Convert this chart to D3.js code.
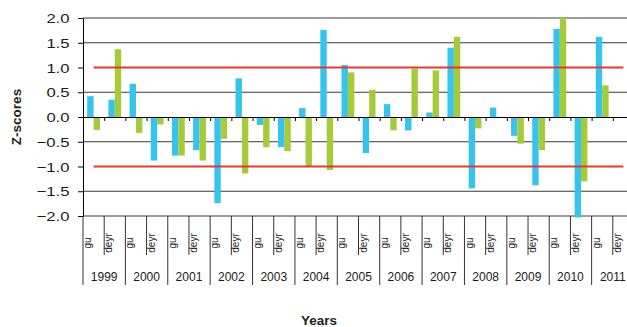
<!DOCTYPE html>
<html><head><meta charset="utf-8">
<script src="https://cdn.jsdelivr.net/npm/d3@7"></script>
<style>html,body{margin:0;padding:0;background:#fff;overflow:hidden}svg{display:block}</style>
</head><body><svg id="c" width="627" height="327"></svg>
<script>
const years = ["1999","2000","2001","2002","2003","2004","2005","2006","2007","2008","2009","2010","2011"];
const seasons = ["gu","deyr"];
const blueValues = [0.42,0.35, 0.67,-0.88, -0.78,-0.67, -1.74,0.78, -0.16,-0.61, 0.18,1.76, 1.05,-0.73, 0.26,-0.27, 0.09,1.40, -1.44,0.19, -0.38,-1.38, 1.78,-2.03, 1.62,null];
const greenValues = [-0.26,1.37, -0.32,-0.15, -0.78,-0.88, -0.44,-1.14, -0.61,-0.69, -1.00,-1.07, 0.90,0.55, -0.27,0.98, 0.94,1.62, -0.23,0.0, -0.54,-0.67, 2.0,-1.30, 0.64,null];
const yTicks = [-2,-1.5,-1,-0.5,0,0.5,1,1.5,2];
const thresholds = [1,-1];

const svg = d3.select("#c");
const X0 = 83, X1 = 634, Y_TOP = 18, Y_BOT = 216;
const FONT = "'Liberation Sans', Arial, sans-serif";
const cats = years.flatMap(yr => seasons.map(s => yr + "|" + s));
const x = d3.scaleBand().domain(cats).range([X0, X1]);
const xYear = d3.scaleBand().domain(years).range([X0, X1]);
const xIdx = d3.scaleLinear().domain([0, cats.length]).range([X0, X1]);
const y = d3.scaleLinear().domain([-2, 2]).range([Y_BOT, Y_TOP]);
const sub = d3.scaleBand().domain(["blue","green"]).range([-6.4, 6.4]);
const colors = {blue: "#35C4EE", green: "#A5CA3A"};

// gridlines
svg.append("g").selectAll("line")
  .data(yTicks.filter(v => v !== 0 && Math.abs(v) !== 1))
  .join("line")
  .attr("x1", X0).attr("x2", X1)
  .attr("y1", d => y(d)).attr("y2", d => y(d))
  .attr("stroke", "#3a3a3a").attr("stroke-width", 1);

// bars
const rows = cats.map((c, i) => ({c, blue: blueValues[i], green: greenValues[i]}));
["blue","green"].forEach(k => {
  svg.append("g").selectAll("rect")
    .data(rows.filter(r => r[k] !== null))
    .join("rect")
    .attr("x", r => x(r.c) + x.bandwidth()/2 + sub(k))
    .attr("width", sub.bandwidth())
    .attr("y", r => y(Math.max(0, r[k])))
    .attr("height", r => Math.abs(y(r[k]) - y(0)))
    .attr("fill", colors[k]);
});

// threshold lines
const firstC = x(cats[0]) + x.bandwidth()/2, lastC = x(cats[cats.length-1]) + x.bandwidth()/2;
svg.append("g").selectAll("line").data(thresholds).join("line")
  .attr("x1", firstC).attr("x2", lastC)
  .attr("y1", d => y(d)).attr("y2", d => y(d))
  .attr("stroke", "#E8392C").attr("stroke-width", 2);

// zero axis with ticks at category boundaries
const zAxis = svg.append("g").attr("transform", `translate(0,${y(0)})`)
  .call(d3.axisBottom(xIdx).tickValues(d3.range(cats.length + 1)).tickFormat("").tickSizeInner(4).tickSizeOuter(0));
zAxis.selectAll("path,line").attr("stroke", "#000");

// y axis
const yAxis = svg.append("g").attr("transform", `translate(${X0},0)`)
  .call(d3.axisLeft(y).tickValues(yTicks).tickSizeInner(5).tickSizeOuter(0).tickFormat(d3.format(".1f")));
yAxis.select(".domain").attr("stroke", "#000");
yAxis.selectAll(".tick line").attr("stroke", "#000");
yAxis.selectAll(".tick text")
  .attr("x", 0).attr("dy", "0.36em")
  .attr("transform", "translate(-13.5,0) scale(1.28,1)")
  .attr("font-family", FONT).attr("font-size", 13).attr("fill", "#1a1a1a");

// category label separators
const sep = svg.append("g");
d3.range(cats.length + 1).forEach(i => {
  const isYear = i % 2 === 0;
  sep.append("line")
    .attr("x1", xIdx(i)).attr("x2", xIdx(i))
    .attr("y1", Y_BOT).attr("y2", isYear ? 285 : 255)
    .attr("stroke", "#333").attr("stroke-width", 1);
});

// season labels
svg.append("g").selectAll("text").data(cats).join("text")
  .attr("transform", c => `translate(${x(c) + x.bandwidth()/2 - 2.5},243) rotate(-90)`)
  .attr("text-anchor", "middle")
  .attr("font-family", FONT).attr("font-size", 10).attr("fill", "#1a1a1a")
  .text(c => c.split("|")[1]);

// year labels
svg.append("g").selectAll("text").data(years).join("text")
  .attr("x", d => xYear(d) + xYear.bandwidth()/2)
  .attr("y", 281)
  .attr("text-anchor", "middle")
  .attr("font-family", FONT).attr("font-size", 12).attr("fill", "#1a1a1a")
  .text(d => d);

// axis titles
svg.append("text")
  .attr("transform", `translate(21,117) rotate(-90)`)
  .attr("text-anchor", "middle")
  .attr("font-family", FONT).attr("font-size", 13.5).attr("font-weight", "bold").attr("fill", "#222")
  .text("Z-scores");
svg.append("text")
  .attr("x", 319).attr("y", 325)
  .attr("text-anchor", "middle")
  .attr("font-family", FONT).attr("font-size", 13.5).attr("font-weight", "bold").attr("fill", "#222")
  .text("Years");
</script></body></html>
